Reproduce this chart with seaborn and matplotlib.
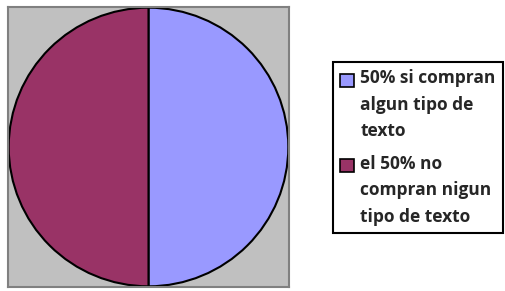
import matplotlib
matplotlib.use("Agg")
import matplotlib.pyplot as plt
import seaborn as sns
from matplotlib.patches import Patch, Rectangle
from matplotlib.legend_handler import HandlerPatch

# data
labels = ["50% si compran\nalgun tipo de\ntexto", "el 50% no\ncompran nigun\ntipo de texto"]
values = [50, 50]
colors = ["#9999ff", "#993366"]

sns.set_style("white")
plt.rcParams["font.family"] = ["Open Sans", "DejaVu Sans"]


class TopPatch(HandlerPatch):
    # put the legend box next to the first line of a wrapped label
    def __init__(self, shift, **kw):
        super().__init__(**kw)
        self.shift = shift

    def create_artists(self, legend, orig_handle, xdescent, ydescent,
                       width, height, fontsize, trans):
        p = Rectangle((-xdescent, -ydescent + self.shift), width, height)
        self.update_prop(p, orig_handle, legend)
        p.set_transform(trans)
        return [p]


fig = plt.figure(figsize=(5.06, 2.91), dpi=100)
ax = fig.add_axes([8 / 506, 4 / 291, 281 / 506, 280 / 291])

ax.pie(values, colors=colors, startangle=90, counterclock=False,
       wedgeprops=dict(edgecolor="black", linewidth=1.5), radius=1)
ax.set_frame_on(True)
ax.set_facecolor("#c0c0c0")
for s in ax.spines.values():
    s.set_visible(True)
    s.set_color("#808080")
    s.set_linewidth(1.5)
ax.set_xlim(-1.005, 1.005)
ax.set_ylim(-1.005, 1.005)
ax.set_aspect("auto")
ax.set_xticks([])
ax.set_yticks([])

handles = [Patch(facecolor=c, edgecolor="black", linewidth=1.2) for c in colors]
fs = 12.5
leg = fig.legend(handles, labels, loc="upper left", bbox_to_anchor=(333 / 506, 1 - 62 / 291),
                 frameon=True, fancybox=False, edgecolor="black", framealpha=1,
                 prop=dict(size=fs, weight="bold"), handlelength=0.8, handleheight=0.8,
                 handletextpad=0.35, labelspacing=0.85, borderpad=0.42, borderaxespad=0,
                 handler_map={Patch: TopPatch(shift=18.3)})
leg.get_frame().set_linewidth(1.5)
for t in leg.get_texts():
    t.set_linespacing(1.6)

fig.savefig("out.png", dpi=100)
